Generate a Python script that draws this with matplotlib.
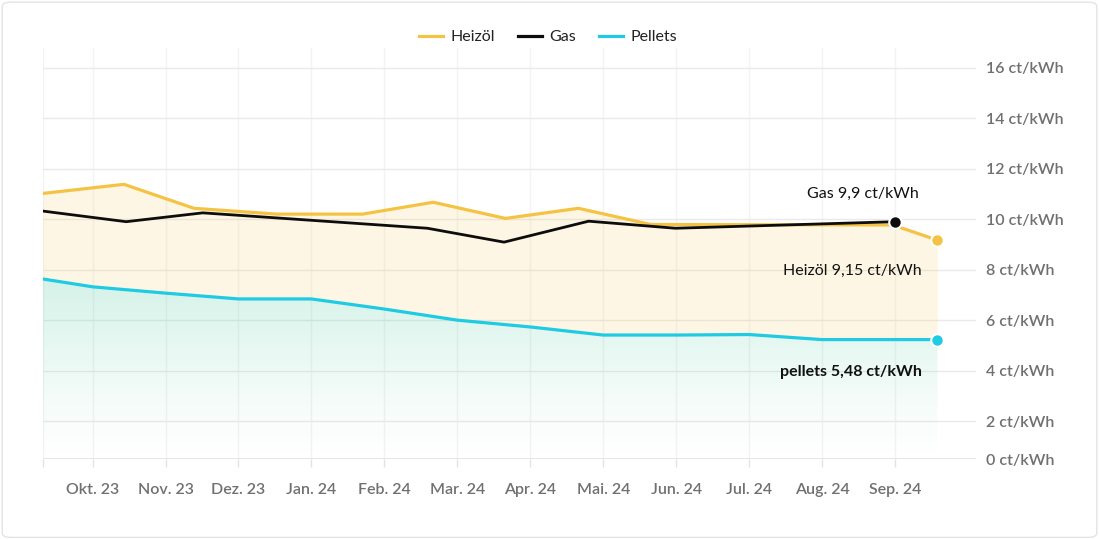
import matplotlib.pyplot as plt
import numpy as np
from matplotlib.patches import Polygon, FancyBboxPatch

plt.rcParams['font.family'] = ['Lato', 'DejaVu Sans']

# month labels (x position 1 = Okt. 23, 12 = Sep. 24)
months = ['Okt. 23', 'Nov. 23', 'Dez. 23', 'Jan. 24', 'Feb. 24', 'Mar. 24',
          'Apr. 24', 'Mai. 24', 'Jun. 24', 'Jul. 24', 'Aug. 24', 'Sep. 24']

heizoel_x = [0.32, 1.43, 2.39, 3.53, 4.70, 5.67, 6.66, 7.66, 8.65, 11.97, 12.58]
heizoel = [11.02, 11.38, 10.43, 10.20, 10.20, 10.67, 10.03, 10.43, 9.79, 9.77, 9.17]

gas_x = [0.32, 1.46, 2.51, 5.59, 6.64, 7.80, 8.99, 12.0]
gas = [10.32, 9.90, 10.25, 9.64, 9.09, 9.92, 9.64, 9.90]

pellets_x = [0.32, 1, 2, 3, 4, 5, 6, 7, 8, 9, 10, 11, 12, 12.58]
pellets = [7.63, 7.32, 7.07, 6.84, 6.84, 6.44, 6.00, 5.73, 5.41, 5.41, 5.43, 5.23, 5.23, 5.23]

y_ticks = [2, 4, 6, 8, 10, 12, 14, 16]

c_oil = '#f4c343'
c_gas = '#0d0d0d'
c_pel = '#1fcbe3'
c_lab = '#707070'

xmin, xmax = 0.32, 13.11
ymin, ymax = 0.5, 16.78

fig = plt.figure(figsize=(10.99, 5.39), dpi=100)
ax = fig.add_axes([43/1099, 80/539, (976-43)/1099, (459-48)/539])

# fills
xx = np.union1d(heizoel_x, pellets_x)
xx = xx[xx <= heizoel_x[-1]]
ax.fill_between(xx, np.interp(xx, heizoel_x, heizoel), np.interp(xx, pellets_x, pellets),
                color=c_oil, alpha=0.14, lw=0, zorder=1)

grad = np.zeros((256, 1, 4))
grad[:, 0, 0] = 0.16
grad[:, 0, 1] = 0.75
grad[:, 0, 2] = 0.55
grad[:, 0, 3] = np.linspace(0.0, 0.2, 256) ** 1.2 / 0.2 ** 0.2
im = ax.imshow(grad, extent=[xmin, pellets_x[-1], ymin, max(pellets)], aspect='auto',
               origin='lower', zorder=1)
verts = [(pellets_x[0], ymin)] + list(zip(pellets_x, pellets)) + [(pellets_x[-1], ymin)]
clip = Polygon(verts, closed=True, facecolor='none', edgecolor='none')
ax.add_patch(clip)
im.set_clip_path(clip)

# lines
ax.plot(heizoel_x, heizoel, color=c_oil, lw=2.3, zorder=3, solid_joinstyle='round')
ax.plot(gas_x, gas, color=c_gas, lw=2.0, zorder=4, solid_joinstyle='round')
ax.plot(pellets_x, pellets, color=c_pel, lw=2.3, zorder=5, solid_joinstyle='round')

# end markers
ax.plot(gas_x[-1], gas[-1], 'o', ms=9, color=c_gas, mec='white', mew=1.5, zorder=6)
ax.plot(heizoel_x[-1], heizoel[-1], 'o', ms=9, color=c_oil, mec='white', mew=1.5, zorder=6)
ax.plot(pellets_x[-1], pellets[-1], 'o', ms=9, color=c_pel, mec='white', mew=1.5, zorder=6)

ax.annotate('Gas 9,9 ct/kWh', (gas_x[-1], gas[-1]), xytext=(17, 20), textcoords='offset points',
            ha='right', va='center', fontsize=11.5, color='#111111', zorder=7)
ax.annotate('Heizöl 9,15 ct/kWh', (heizoel_x[-1], heizoel[-1]), xytext=(-11, -22),
            textcoords='offset points', ha='right', va='center', fontsize=11.5, color='#111111', zorder=7)
ax.annotate('pellets 5,48 ct/kWh', (pellets_x[-1], pellets[-1]), xytext=(-11, -23.5),
            textcoords='offset points', ha='right', va='center', fontsize=11.5, color='#111111',
            fontweight='bold', zorder=7)

# axes styling
ax.set_xlim(xmin, xmax)
ax.set_ylim(ymin, ymax)
for s in ax.spines.values():
    s.set_visible(False)
ax.axhline(ymin, color='#e2e2e2', lw=1.2, zorder=2)

ax.set_xticks(np.arange(1, 13))
ax.set_xticklabels(months)
ax.set_xticks([xmin], minor=True)
ax.tick_params(axis='x', which='both', length=6, width=1, color='#e2e2e2', pad=11,
               labelsize=11.5, labelcolor=c_lab)
for t in ax.get_xticklabels():
    t.set_fontweight('semibold')
ax.grid(axis='x', which='both', color='#f3f3f3', lw=1, zorder=0)

ax.yaxis.tick_right()
ax.set_yticks([ymin] + y_ticks)
ax.set_yticklabels(['0 ct/kWh'] + ['%d ct/kWh' % v for v in y_ticks])
ax.tick_params(axis='y', length=0, pad=7, labelsize=11.5, labelcolor=c_lab)
for t in ax.get_yticklabels():
    t.set_fontweight('semibold')
    t.set_horizontalalignment('left')
ax.grid(axis='y', color='#eaeaea', lw=1, zorder=0)
ax.set_axisbelow(True)

# legend
h1, = ax.plot([], [], color=c_oil, lw=2.3)
h2, = ax.plot([], [], color=c_gas, lw=2.3)
h3, = ax.plot([], [], color=c_pel, lw=2.3)
fig.legend([h1, h2, h3], ['Heizöl', 'Gas', 'Pellets'], loc='center', bbox_to_anchor=(0.4986, 0.931),
           ncol=3, frameon=False, fontsize=11.5, handlelength=1.5, handletextpad=0.5,
           columnspacing=1.4, labelcolor='#222222')

# card border
fig.patches.append(FancyBboxPatch((0.002, 0.003), 0.996, 0.993,
                                  boxstyle='round,pad=0,rounding_size=0.008',
                                  transform=fig.transFigure, ec='#e4e4e4', fc='none', lw=1))

fig.savefig('out.png', dpi=100)
